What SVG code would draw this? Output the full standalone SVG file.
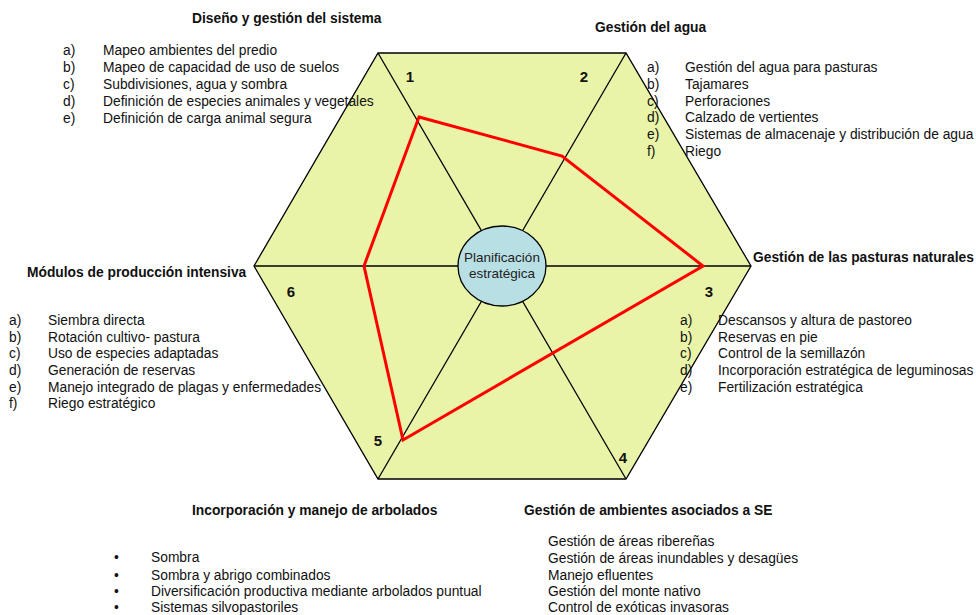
<svg xmlns="http://www.w3.org/2000/svg" width="976" height="615" viewBox="0 0 976 615">
  <style>
    text { font-family: "Liberation Sans", Arial, sans-serif; font-size: 13.8px; fill: #111; }
    .title { font-weight: bold; }
    .num { font-weight: bold; font-size: 15px; text-anchor: middle; }
    .hex { fill: #E9F4A8; stroke: #000; stroke-width: 1.3; }
    .spoke { stroke: #000; stroke-width: 1.3; fill: none; }
    .score { fill: none; stroke: #FF0000; stroke-width: 3; stroke-linejoin: miter; }
    .hub { fill: #B8DFE4; stroke: #000; stroke-width: 1.3; }
    .hubtext { font-size: 13.5px; text-anchor: middle; fill: #222; }
  </style>

  <!-- hexagon with six sectors -->
  <g id="hexagon">
    <polygon class="hex" points="378,53 626,53 751,266 626,479 378,479 254,266"/>
  </g>
  <g id="connectors">
    <line class="spoke" x1="502" y1="266" x2="378" y2="53"/>
    <line class="spoke" x1="502" y1="266" x2="626" y2="53"/>
    <line class="spoke" x1="502" y1="266" x2="751" y2="266"/>
    <line class="spoke" x1="502" y1="266" x2="626" y2="479"/>
    <line class="spoke" x1="502" y1="266" x2="378" y2="479"/>
    <line class="spoke" x1="502" y1="266" x2="254" y2="266"/>
  </g>

  <!-- evaluation profile -->
  <g id="profile">
    <polygon class="score" points="419,117 562,156 703,266 403,440 364,266"/>
  </g>

  <!-- centre hub -->
  <g id="hub">
    <ellipse class="hub" cx="502" cy="266" rx="44" ry="40"/>
    <text class="hubtext" x="502" y="262">Planificación</text>
    <text class="hubtext" x="502" y="278">estratégica</text>
  </g>

  <!-- sector numbers -->
  <g id="numbers">
    <text class="num" x="410" y="82">1</text>
    <text class="num" x="584" y="82">2</text>
    <text class="num" x="709" y="297">3</text>
    <text class="num" x="623" y="463">4</text>
    <text class="num" x="378" y="446">5</text>
    <text class="num" x="291" y="297">6</text>
  </g>

  <!-- sector 1 -->
  <g id="sector1">
    <text class="title" x="192" y="23">Diseño y gestión del sistema</text>
    <text x="63" y="55">a)</text><text x="103" y="55">Mapeo ambientes del predio</text>
    <text x="63" y="72">b)</text><text x="103" y="72">Mapeo de capacidad de uso de suelos</text>
    <text x="63" y="89">c)</text><text x="103" y="89">Subdivisiones, agua y sombra</text>
    <text x="63" y="106">d)</text><text x="103" y="106">Definición de especies animales y vegetales</text>
    <text x="63" y="123">e)</text><text x="103" y="123">Definición de carga animal segura</text>
  </g>

  <!-- sector 2 -->
  <g id="sector2">
    <text class="title" x="595" y="32">Gestión del agua</text>
    <text x="647" y="72">a)</text><text x="685" y="72">Gestión del agua para pasturas</text>
    <text x="647" y="89">b)</text><text x="685" y="89">Tajamares</text>
    <text x="647" y="106">c)</text><text x="685" y="106">Perforaciones</text>
    <text x="647" y="122">d)</text><text x="685" y="122">Calzado de vertientes</text>
    <text x="647" y="139">e)</text><text x="685" y="139">Sistemas de almacenaje y distribución de agua</text>
    <text x="647" y="156">f)</text><text x="685" y="156">Riego</text>
  </g>

  <!-- sector 3 -->
  <g id="sector3">
    <text class="title" x="753" y="262">Gestión de las pasturas naturales</text>
    <text x="680" y="325">a)</text><text x="718" y="325">Descansos y altura de pastoreo</text>
    <text x="680" y="342">b)</text><text x="718" y="342">Reservas en pie</text>
    <text x="680" y="358">c)</text><text x="718" y="358">Control de la semillazón</text>
    <text x="680" y="375">d)</text><text x="718" y="375">Incorporación estratégica de leguminosas</text>
    <text x="680" y="392">e)</text><text x="718" y="392">Fertilización estratégica</text>
  </g>

  <!-- sector 4 -->
  <g id="sector4">
    <text class="title" x="524" y="515">Gestión de ambientes asociados a SE</text>
    <text x="548" y="546">Gestión de áreas ribereñas</text>
    <text x="548" y="563">Gestión de áreas inundables y desagües</text>
    <text x="548" y="580">Manejo efluentes</text>
    <text x="548" y="596">Gestión del monte nativo</text>
    <text x="548" y="612">Control de exóticas invasoras</text>
  </g>

  <!-- sector 5 -->
  <g id="sector5">
    <text class="title" x="192" y="515">Incorporación y manejo de arbolados</text>
    <text x="114" y="562">•</text><text x="151" y="562">Sombra</text>
    <text x="114" y="580">•</text><text x="151" y="580">Sombra y abrigo combinados</text>
    <text x="114" y="596">•</text><text x="151" y="596">Diversificación productiva mediante arbolados puntual</text>
    <text x="114" y="612">•</text><text x="151" y="612">Sistemas silvopastoriles</text>
  </g>

  <!-- sector 6 -->
  <g id="sector6">
    <text class="title" x="27" y="277">Módulos de producción intensiva</text>
    <text x="9" y="325">a)</text><text x="48" y="325">Siembra directa</text>
    <text x="9" y="342">b)</text><text x="48" y="342">Rotación cultivo- pastura</text>
    <text x="9" y="358">c)</text><text x="48" y="358">Uso de especies adaptadas</text>
    <text x="9" y="375">d)</text><text x="48" y="375">Generación de reservas</text>
    <text x="9" y="392">e)</text><text x="48" y="392">Manejo integrado de plagas y enfermedades</text>
    <text x="9" y="408">f)</text><text x="48" y="408">Riego estratégico</text>
  </g>
</svg>
